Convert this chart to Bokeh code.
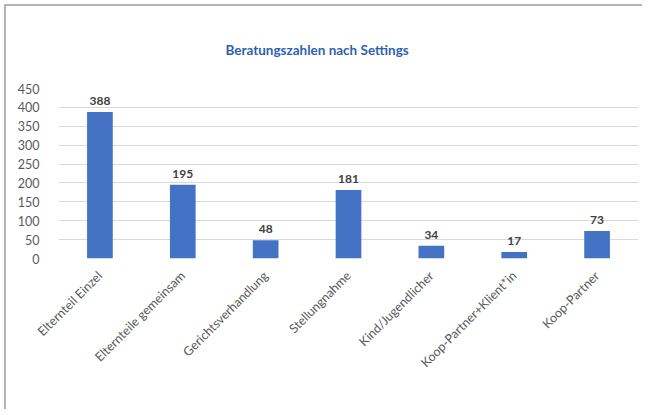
from bokeh.plotting import figure
from bokeh.models import ColumnDataSource, FactorRange, Range1d, SingleIntervalTicker
from bokeh.embed import file_html
from bokeh.resources import INLINE
from bokeh.core.properties import value
import math

categories = ["Elternteil Einzel", "Elternteile gemeinsam", "Gerichtsverhandlung",
              "Stellungnahme", "Kind/Jugendlicher", "Koop-Partner+Klient*in", "Koop-Partner"]
counts = [388, 195, 48, 181, 34, 17, 73]
title_text = "Beratungszahlen nach Settings"

FONT = "Lato"

src = ColumnDataSource(dict(cat=categories, val=counts, lab=[str(v) for v in counts]))

p = figure(width=638, height=405, x_range=FactorRange(*categories), y_range=Range1d(0, 450),
           output_backend="svg", toolbar_location=None,
           min_border_left=52, min_border_right=6, min_border_top=82, min_border_bottom=153)
p.styles = {"border-left": "2px solid #b4b4b4", "border-top": "2px solid #b4b4b4",
            "margin-left": "4px", "margin-top": "4px"}

p.vbar(x="cat", top="val", width=0.31, source=src, fill_color="#4472C4", line_color=None)
p.text(x="cat", y="val", text="lab", source=src, y_offset=-7, text_align="center",
       text_baseline="bottom", text_font=value(FONT), text_font_style="bold",
       text_font_size="12px", text_color="#404040")

p.title.text = title_text
p.title.align = "left"
p.title.offset = 167
p.title.standoff = 62
p.title.text_font = FONT
p.title.text_font_style = "bold"
p.title.text_font_size = "13.5px"
p.title.text_color = "#2F5FB3"

p.outline_line_color = None
p.xgrid.grid_line_color = None
p.ygrid.grid_line_color = "#d9d9d9"
p.yaxis.ticker = SingleIntervalTicker(interval=50)
for ax in (p.xaxis, p.yaxis):
    ax.axis_line_color = None
    ax.major_tick_line_color = None
    ax.minor_tick_line_color = None
    ax.major_label_text_font = FONT
    ax.major_label_text_color = "#595959"
p.yaxis.major_label_text_font_size = "12.5px"
p.xaxis.major_label_text_font_size = "12.5px"
p.yaxis.major_label_standoff = 13
p.xaxis.major_label_orientation = math.pi / 4
p.xaxis.major_label_standoff = 9

open("out.html", "w").write(file_html(p, INLINE))
